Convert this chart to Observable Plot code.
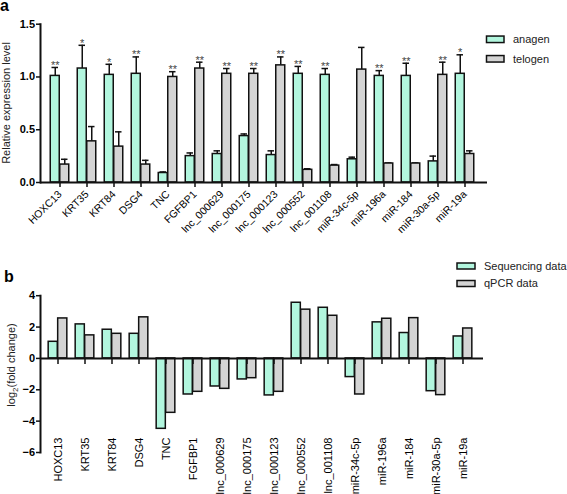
<!DOCTYPE html>
<html><head><meta charset="utf-8">
<script src="https://cdn.jsdelivr.net/npm/d3@7"></script>
<script src="https://cdn.jsdelivr.net/npm/@observablehq/plot@0.6"></script>
<style>
body{margin:0;background:#fff;}
#wrap{width:567px;}
#wrap svg{display:block;}
</style></head><body><div id="wrap"></div>
<script>
// ---- data ----
const genes = ["HOXC13","KRT35","KRT84","DSG4","TNC","FGFBP1","lnc_000629","lnc_000175","lnc_000123","lnc_000552","lnc_001108","miR-34c-5p","miR-196a","miR-184","miR-30a-5p","miR-19a"];
const anagenMean  = [1.01,1.08,1.02,1.03,0.09,0.25,0.27,0.44,0.26,1.03,1.02,0.22,1.01,1.01,0.20,1.03];
const anagenSD    = [0.08,0.22,0.10,0.16,0.01,0.03,0.03,0.02,0.04,0.07,0.06,0.02,0.05,0.12,0.05,0.18];
const telogenMean = [0.17,0.39,0.34,0.17,1.00,1.08,1.03,1.03,1.11,0.12,0.16,1.07,0.18,0.18,1.02,0.27];
const telogenSD   = [0.05,0.14,0.14,0.04,0.05,0.06,0.05,0.05,0.08,0.01,0.01,0.21,0.005,0.005,0.12,0.03];
const signif      = ["**","*","*","**","**","**","**","**","**","**","**","","**","**","**","*"];
const seqLog2FC   = [1.06,2.17,1.83,1.57,-4.49,-2.30,-1.79,-1.34,-2.36,3.55,3.23,-1.19,2.30,1.62,-2.09,1.40];
const qpcrLog2FC  = [2.55,1.47,1.57,2.62,-3.47,-2.13,-1.94,-1.26,-2.13,3.11,2.72,-2.30,2.53,2.57,-2.34,1.91];
const seriesA = ["anagen","telogen"];
const seriesB = ["Sequencing data","qPCR data"];
const colors  = ["#b2f6de","#d4d4d4"];
const yTicksA = [0,0.5,1,1.5];
const yTicksB = [-6,-4,-2,0,2,4];

const font = "'Liberation Sans', Arial, Helvetica, sans-serif";
const ink = "#111";

const rowsA = genes.map((g,i)=>({
  gene:g, anagen:anagenMean[i], anagenTop:anagenMean[i]+anagenSD[i],
  telogen:telogenMean[i], telogenTop:telogenMean[i]+telogenSD[i], star:signif[i]
}));
const starA = rowsA.filter(d=>d.star && d.anagen>d.telogen);
const starT = rowsA.filter(d=>d.star && d.anagen<=d.telogen);

const rowsB = genes.map((g,i)=>({gene:g, seq:seqLog2FC[i], qpcr:qpcrLog2FC[i], base:0}));

// small downward tick symbol (axis tick at the zero line)
const tickDown = {draw(ctx){ ctx.moveTo(0,0); ctx.lineTo(0,5.5); }};

const wrap = document.getElementById("wrap");

// ---- panel a ----
const bwA = (482.2-42.1)/genes.length, hA = bwA/2, barW = 9.5;
const plotA = Plot.plot({
  width:567, height:250,
  marginLeft:40, marginRight:80, marginTop:23.7, marginBottom:68,
  style:{fontFamily:font, fontSize:"10px", color:"#000", background:"#fff", overflow:"visible"},
  x:{type:"band", domain:genes, range:[42.1,482.2], padding:0, axis:null},
  y:{domain:[0,1.5], axis:null},
  marks:[
    Plot.ruleX(rowsA,{x:"gene", y1:"anagen", y2:"anagenTop", dx:-barW/2, stroke:ink, strokeWidth:1.5}),
    Plot.ruleX(rowsA,{x:"gene", y1:"telogen", y2:"telogenTop", dx:barW/2, stroke:ink, strokeWidth:1.5}),
    Plot.tickY(rowsA,{x:"gene", y:"anagenTop", dx:-barW/2, insetLeft:hA-3.5, insetRight:hA-3.5, stroke:ink, strokeWidth:1.5}),
    Plot.tickY(rowsA,{x:"gene", y:"telogenTop", dx:barW/2, insetLeft:hA-3.5, insetRight:hA-3.5, stroke:ink, strokeWidth:1.5}),
    Plot.barY(rowsA,{x:"gene", y:"anagen", fill:colors[0], stroke:ink, strokeWidth:1.5, insetLeft:hA-barW, insetRight:hA}),
    Plot.barY(rowsA,{x:"gene", y:"telogen", fill:colors[1], stroke:ink, strokeWidth:1.5, insetLeft:hA, insetRight:hA-barW}),
    Plot.text(starA,{x:"gene", y:"anagenTop", text:"star", dx:-barW/2, dy:1.5, lineAnchor:"bottom", fill:"#444", fontSize:11}),
    Plot.text(starT,{x:"gene", y:"telogenTop", text:"star", dx:barW/2, dy:1.5, lineAnchor:"bottom", fill:"#444", fontSize:11}),
    Plot.frame({anchor:"left", stroke:ink, strokeWidth:2}),
    Plot.ruleY([0],{stroke:ink, strokeWidth:2}),
    Plot.axisX({tickSize:5, tickPadding:5, tickRotate:-45, fontSize:10.5, stroke:ink, strokeWidth:1.5, label:null}),
    Plot.axisY(yTicksA,{tickSize:4, tickPadding:1.5, tickFormat:d3.format(".1f"), fontWeight:"bold", fontSize:11, stroke:ink, strokeWidth:1.5, label:null})
  ]
});
wrap.appendChild(plotA);

// ---- panel b ----
const bwB = (478.85-41.15)/genes.length, hB = bwB/2;
const plotB = Plot.plot({
  width:567, height:244,
  marginLeft:40, marginRight:84, marginTop:45.2, marginBottom:42,
  style:{fontFamily:font, fontSize:"11px", color:"#000", background:"#fff", overflow:"visible"},
  x:{type:"band", domain:genes, range:[41.15,478.85], padding:0, axis:null},
  y:{domain:[-6,4], axis:null},
  marks:[
    Plot.barY(rowsB,{x:"gene", y:"seq", fill:colors[0], stroke:ink, strokeWidth:1.5, insetLeft:hB-barW, insetRight:hB}),
    Plot.barY(rowsB,{x:"gene", y:"qpcr", fill:colors[1], stroke:ink, strokeWidth:1.5, insetLeft:hB, insetRight:hB-barW}),
    Plot.ruleY([0],{stroke:ink, strokeWidth:2}),
    Plot.dot(rowsB,{x:"gene", y:"base", symbol:tickDown, fill:"none", stroke:ink, strokeWidth:1.5}),
    Plot.frame({anchor:"left", stroke:ink, strokeWidth:2}),
    Plot.axisX({tickSize:0, tickPadding:-15, tickRotate:-90, fontSize:11, label:null}),
    Plot.axisY(yTicksB,{tickSize:4, tickPadding:1.5, tickFormat:d3.format("d"), fontWeight:"bold", fontSize:11, stroke:ink, strokeWidth:1.5, label:null})
  ]
});
wrap.appendChild(plotB);

// ---- annotations: panel letters, axis titles, legends ----
function legend(svg, labels, x, y0, step, sw, sh){
  const g = d3.select(svg).append("g").attr("font-family",font).attr("font-size",11).attr("text-anchor","start");
  labels.forEach((lab,i)=>{
    const y = y0 + i*step;
    g.append("rect").attr("x",x).attr("y",y-sh/2).attr("width",sw).attr("height",sh)
      .attr("fill",colors[i]).attr("stroke",ink).attr("stroke-width",1.5);
    g.append("text").attr("x",x+sw+9).attr("y",y).attr("dy","0.35em").attr("fill","#222").text(lab);
  });
}
const sA = d3.select(plotA);
sA.append("text").attr("x",0).attr("y",11).attr("text-anchor","start").attr("font-family",font).attr("font-size",16).attr("font-weight","bold").text("a");
sA.append("text").attr("transform","translate(10,103) rotate(-90)").attr("text-anchor","middle")
  .attr("font-family",font).attr("font-size",11).attr("fill","#222").text("Relative expression level");
legend(plotA, seriesA, 486.5, 39.3, 19.5, 17.5, 6.5);

const sB = d3.select(plotB);
sB.append("text").attr("x",4).attr("y",32).attr("text-anchor","start").attr("font-family",font).attr("font-size",16).attr("font-weight","bold").text("b");
const yl = sB.append("text").attr("transform","translate(15,115) rotate(-90)").attr("text-anchor","middle")
  .attr("font-family",font).attr("font-size",11).attr("fill","#222");
yl.append("tspan").text("log");
yl.append("tspan").attr("font-size",8).attr("dy",3).text("2");
yl.append("tspan").attr("dy",-3).text("(fold change)");
legend(plotB, seriesB, 457, 16, 17.5, 18, 6);
</script>
</body></html>
